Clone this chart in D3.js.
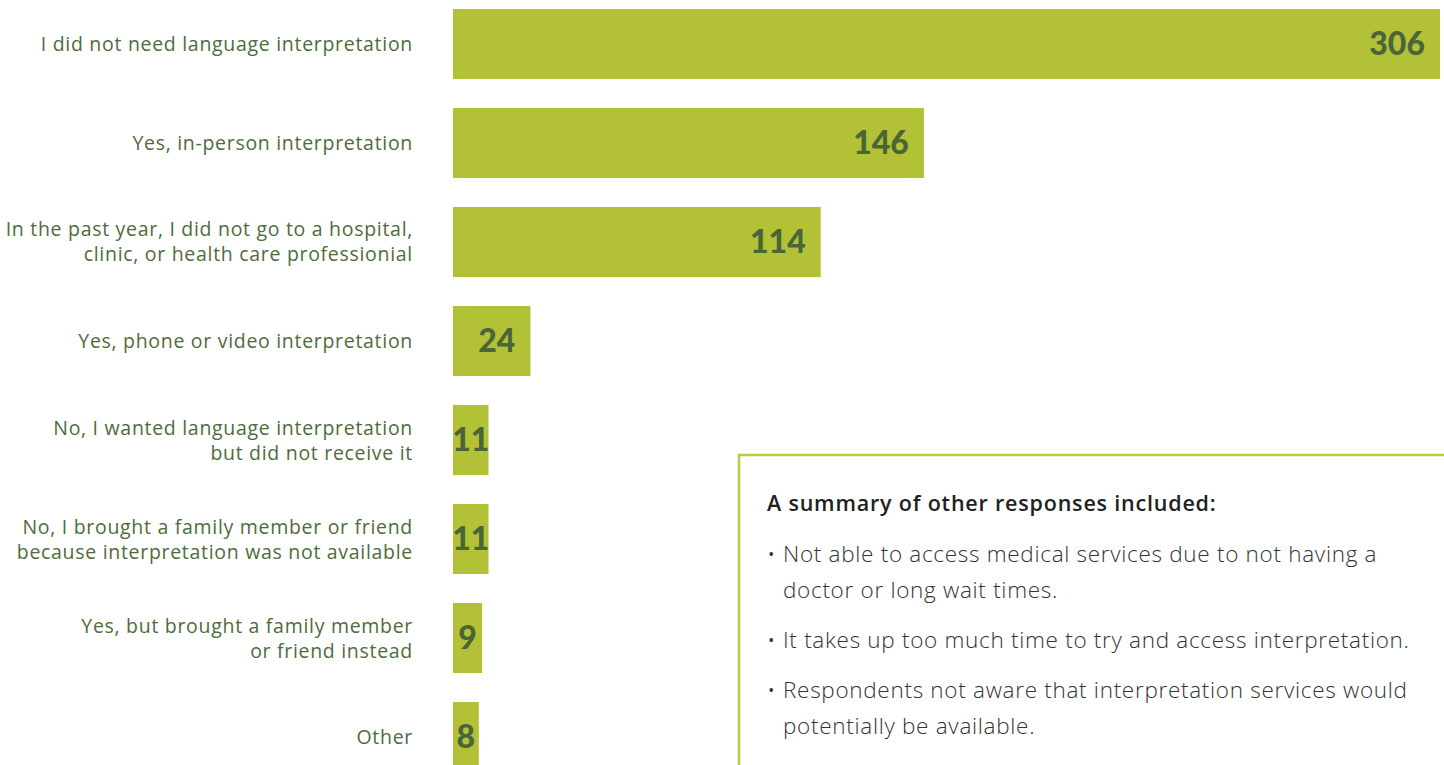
<!DOCTYPE html>
<html>
<head>
<meta charset="utf-8">
<script src="https://cdn.jsdelivr.net/npm/d3@7"></script>
<style>
  html, body { margin: 0; padding: 0; background: #fff; overflow: hidden; }
  .label { font-family: "Open Sans", sans-serif; font-size: 19.5px; letter-spacing: 0.7px; fill: #4f6b3d; }
  .value { font-family: "Lato", sans-serif; font-weight: 900; font-size: 32px; fill: #4a6538; }
  .note-title { font-family: "Open Sans", sans-serif; font-weight: 600; font-size: 21.5px; letter-spacing: 0.8px; fill: #222; }
  .note { font-family: "Open Sans", sans-serif; font-weight: 300; font-size: 22.5px; letter-spacing: 0.7px; fill: #333; }
</style>
</head>
<body>
<div id="chart"></div>
<script>
var categories = [
  "I did not need language interpretation",
  "Yes, in-person interpretation",
  "In the past year, I did not go to a hospital,\nclinic, or health care professionial",
  "Yes, phone or video interpretation",
  "No, I wanted language interpretation\nbut did not receive it",
  "No, I brought a family member or friend\nbecause interpretation was not available",
  "Yes, but brought a family member\nor friend instead",
  "Other"
];
var counts = [306, 146, 114, 24, 11, 11, 9, 8];

var noteTitle = "A summary of other responses included:";
var noteItems = [
  ["Not able to access medical services due to not having a", "doctor or long wait times."],
  ["It takes up too much time to try and access interpretation."],
  ["Respondents not aware that interpretation services would", "potentially be available."]
];

var width = 1444, height = 765;
var data = categories.map(function(c, i) { return {cat: c, n: counts[i]}; });

var svg = d3.select("#chart").append("svg")
    .attr("width", width)
    .attr("height", height);

var x = d3.scaleLinear().domain([0, 306]).range([453, 1440]),
    y = d3.scaleBand().domain(categories).range([9, 772]).paddingInner(0.293).paddingOuter(0);

/* bars */
svg.append("g").selectAll("rect")
    .data(data)
  .enter().append("rect")
    .attr("x", x(0))
    .attr("y", function(d) { return y(d.cat); })
    .attr("width", function(d) { return x(d.n) - x(0); })
    .attr("height", y.bandwidth())
    .attr("fill", "#b3c136");

/* category labels, right aligned, may span two lines */
var lab = svg.append("g").selectAll("text")
    .data(data)
  .enter().append("text")
    .attr("class", "label")
    .attr("text-anchor", "end");

lab.each(function(d) {
  var lines = d.cat.split("\n"),
      cy = y(d.cat) + y.bandwidth() / 2,
      lh = 25,
      t = d3.select(this);
  lines.forEach(function(l, i) {
    t.append("tspan")
      .attr("x", 413)
      .attr("y", cy + (i - (lines.length - 1) / 2) * lh + 7)
      .text(l);
  });
});

/* value labels inside the bars */
svg.append("g").selectAll("text")
    .data(data)
  .enter().append("text")
    .attr("class", "value")
    .attr("y", function(d) { return y(d.cat) + y.bandwidth() / 2 + 11; })
    .text(function(d) { return d.n; })
    .each(function(d) {
      var w = this.getComputedTextLength(),
          bw = x(d.n) - x(0),
          t = d3.select(this);
      if (w + 26 > bw) {
        t.attr("text-anchor", "middle").attr("x", (x(0) + x(d.n)) / 2);
      } else {
        t.attr("text-anchor", "end").attr("x", x(d.n) - 15);
      }
    });

/* note box, open to the right and bottom */
svg.append("path")
    .attr("d", "M739," + height + "V455H" + width)
    .attr("fill", "none")
    .attr("stroke", "#bccb3f")
    .attr("stroke-width", 2.5);

svg.append("text")
    .attr("class", "note-title")
    .attr("x", 767)
    .attr("y", 511)
    .text(noteTitle);

var yy = 562;
noteItems.forEach(function(item) {
  item.forEach(function(line, i) {
    if (i == 0) {
      svg.append("text").attr("class", "note")
        .attr("x", 767).attr("y", yy).text("\u2022");
    }
    svg.append("text").attr("class", "note")
      .attr("x", 783).attr("y", yy).text(line);
    yy += (i == item.length - 1) ? 50 : 36;
  });
});
</script>
</body>
</html>
